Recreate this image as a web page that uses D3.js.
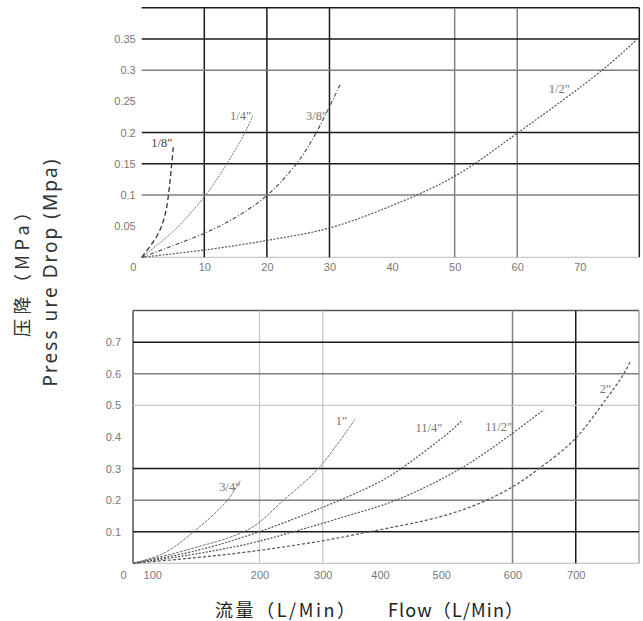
<!DOCTYPE html>
<html lang="zh">
<head>
    <meta charset="UTF-8">
    <title>Pressure drop</title>
    <style>
        body { margin: 0; background: #fff; }
        svg { display: block; }
    </style>
</head>
<body>
<svg width="643" height="621"></svg>
<script src="https://cdn.jsdelivr.net/npm/d3@7/dist/d3.min.js"></script>
<script>
    // top panel: small sizes, flow 0-80 L/min
    const topSizes = ['1/8"', '1/4"', '3/8"', '1/2"']
    const topFlow = [
        [0, 1.5, 2.7, 3.5, 4.0, 4.5, 4.8, 5.05],
        [0, 5.3, 10, 13.3, 16.5, 17.8],
        [0, 10, 15, 20, 24.8, 28, 31.7],
        [0, 10, 20, 30, 40, 50, 60, 73.7, 79.1]
    ]
    const topDrop = [
        [0, 0.02, 0.039, 0.06, 0.081, 0.12, 0.15, 0.177],
        [0, 0.044, 0.097, 0.145, 0.2, 0.228],
        [0, 0.0386, 0.064, 0.099, 0.151, 0.202, 0.277],
        [0, 0.0117, 0.027, 0.047, 0.083, 0.13, 0.199, 0.301, 0.349]
    ]
    const topXTicks = [0, 10, 20, 30, 40, 50, 60, 70]
    const topYTicks = [0.05, 0.1, 0.15, 0.2, 0.25, 0.3, 0.35]
    const topGridX = [10, 20, 30, 50, 60]
    const topGridY = [0.1, 0.15, 0.2, 0.3, 0.35]

    // bottom panel: large sizes, flow 0-800 L/min
    const botSizes = ['3/4"', '1"', '11/4"', '11/2"', '2"']
    const botFlow = [
        [0, 48.8, 96, 148.7, 169.6],
        [0, 90, 185, 238, 293, 351],
        [0, 100, 185, 290, 390, 424, 500, 519],
        [0, 100, 185, 254, 330, 416, 518, 592, 650],
        [0, 100, 185, 290, 374, 485, 548, 600, 642, 697, 747, 776, 786]
    ]
    const botDrop = [
        [0, 0.032, 0.1, 0.198, 0.262],
        [0, 0.045, 0.11, 0.2, 0.3, 0.456],
        [0, 0.04, 0.09, 0.169, 0.258, 0.3, 0.415, 0.45],
        [0, 0.03, 0.063, 0.1, 0.145, 0.2, 0.3, 0.4, 0.487],
        [0, 0.018, 0.037, 0.068, 0.1, 0.147, 0.19, 0.242, 0.3, 0.39, 0.517, 0.6, 0.638]
    ]
    const botXTicks = [0, 100, 200, 300, 400, 500, 600, 700]
    const botYTicks = [0.1, 0.2, 0.3, 0.4, 0.5, 0.6, 0.7]
    const botGridX = [200, 300, 600, 700]
    const botGridY = [0.1, 0.2, 0.3, 0.5, 0.6, 0.7]

    var svg = d3.select("svg")

    var dark = {stroke: "#1a1a1a", w: 1.5}
    var mid = {stroke: "#808080", w: 1.5}
    var light = {stroke: "#c8c8c8", w: 1.3}

    var topStyle = {10: dark, 20: dark, 30: dark, 50: mid, 60: mid}
    var topStyleY = {0.1: mid, 0.15: dark, 0.2: dark, 0.3: mid, 0.35: dark}
    var botStyle = {200: light, 300: light, 600: mid, 700: dark}
    var botStyleY = {0.1: dark, 0.2: mid, 0.3: dark, 0.5: light, 0.6: mid, 0.7: dark}

    var topLines = [
        {stroke: "#333", w: 1.3, dash: "5,3"},
        {stroke: "#777", w: 1, dash: "2,1"},
        {stroke: "#444", w: 1.1, dash: "4,2,1,2"},
        {stroke: "#555", w: 1.2, dash: "2,1.5"}
    ]
    var botLines = [
        {stroke: "#777", w: 1, dash: "3,1"},
        {stroke: "#777", w: 1, dash: "3,1"},
        {stroke: "#555", w: 1.2, dash: "2,1.5"},
        {stroke: "#555", w: 1.2, dash: "2,1.5"},
        {stroke: "#555", w: 1.2, dash: "3,2"}
    ]
    // label offsets from the end of each curve, pixels
    var topLabelOff = [[-1, 0], [-2, 5], [-13, 35], [-67, 53]]
    var botLabelOff = [[0, 10], [-8, 6], [-19, 11], [-32, 22], [-19, 31]]

    var fmt = d => d === 0 ? "0" : d3.format(".2~f")(d)

    function panel(o) {
        var x = d3.scaleLinear().domain(o.xDomain).range(o.xRange)
        var y = d3.scaleLinear().domain(o.yDomain).range(o.yRange)
        var g = svg.append("g")

        // frame pieces
        o.frame.forEach(f => {
            g.append("line")
                .attr("x1", f[0] === "v" ? x(f[1]) : x.range()[0])
                .attr("x2", f[0] === "v" ? x(f[1]) : x.range()[1])
                .attr("y1", f[0] === "h" ? y(f[1]) : y.range()[0])
                .attr("y2", f[0] === "h" ? y(f[1]) : y.range()[1])
                .attr("stroke", f[2].stroke)
                .attr("stroke-width", f[2].w)
        })

        g.selectAll(".gx").data(o.gridX).join("line")
            .attr("x1", d => x(d)).attr("x2", d => x(d))
            .attr("y1", y.range()[0]).attr("y2", y.range()[1])
            .attr("stroke", d => o.styleX[d].stroke)
            .attr("stroke-width", d => o.styleX[d].w)

        g.selectAll(".gy").data(o.gridY).join("line")
            .attr("y1", d => y(d)).attr("y2", d => y(d))
            .attr("x1", x.range()[0]).attr("x2", x.range()[1])
            .attr("stroke", d => o.styleY[d].stroke)
            .attr("stroke-width", d => o.styleY[d].w)

        var ax = g.append("g")
            .attr("transform", "translate(0," + y.range()[0] + ")")
            .call(d3.axisBottom(x).tickValues(o.xTicks).tickSize(0).tickPadding(o.xPad).tickFormat(fmt))
        ax.select(".domain").remove()
        ax.selectAll("text").attr("dx", d => o.nudge[d] || 0)

        var ay = g.append("g")
            .attr("transform", "translate(" + x.range()[0] + ",0)")
            .call(d3.axisLeft(y).tickValues(o.yTicks).tickSize(0).tickPadding(o.yPad).tickFormat(fmt))
        ay.select(".domain").remove()

        g.selectAll(".tick text")
            .attr("font-family", "Liberation Sans, sans-serif")
            .attr("font-size", 11)
            .attr("fill", "#777")

        var line = d3.line()
            .x(d => x(d[0])).y(d => y(d[1]))
            .curve(d3.curveCatmullRom.alpha(0.5))

        o.sizes.forEach((s, i) => {
            var pts = o.flow[i].map((f, j) => [f, o.drop[i][j]])
            g.append("path")
                .attr("d", line(pts))
                .attr("fill", "none")
                .attr("stroke", o.lines[i].stroke)
                .attr("stroke-width", o.lines[i].w)
                .attr("stroke-dasharray", o.lines[i].dash)
            var last = pts[pts.length - 1]
            g.append("text")
                .attr("x", x(last[0]) + o.labelOff[i][0])
                .attr("y", y(last[1]) + o.labelOff[i][1])
                .attr("text-anchor", "end")
                .attr("font-family", "Liberation Serif, serif")
                .attr("font-size", 12.5)
                .attr("fill", i === 0 && o.sizes === topSizes ? "#444" : "#777")
                .text(s)
        })
    }

    panel({
        xDomain: [0, 79.5], xRange: [141.7, 639.3],
        yDomain: [0, 0.4], yRange: [257.3, 7.8],
        frame: [["h", 0.4, dark], ["v", 79.5, dark], ["h", 0, light]],
        gridX: topGridX, gridY: topGridY, styleX: topStyle, styleY: topStyleY,
        xTicks: topXTicks, yTicks: topYTicks, xPad: 6, yPad: 6, nudge: {0: -9},
        sizes: topSizes, flow: topFlow, drop: topDrop, lines: topLines, labelOff: topLabelOff
    })

    panel({
        xDomain: [0, 800], xRange: [133, 639],
        yDomain: [0, 0.8], yRange: [563.3, 310.6],
        frame: [["h", 0.8, {stroke: "#555", w: 1.5}], ["v", 0, {stroke: "#555", w: 1.5}],
                ["v", 800, {stroke: "#999", w: 1.3}], ["h", 0, light]],
        gridX: botGridX, gridY: botGridY, styleX: botStyle, styleY: botStyleY,
        xTicks: botXTicks, yTicks: botYTicks, xPad: 8, yPad: 12, nudge: {0: -10, 100: -44, 400: -6, 500: -8},
        sizes: botSizes, flow: botFlow, drop: botDrop, lines: botLines, labelOff: botLabelOff
    })

    // axis titles
    svg.append("text")
        .attr("transform", "translate(21,270) rotate(-90)")
        .attr("text-anchor", "middle").attr("dominant-baseline", "central")
        .attr("font-family", "Noto Sans CJK SC, sans-serif").attr("font-size", 18)
        .attr("fill", "#333")
        .attr("textLength", 134).attr("lengthAdjust", "spacing")
        .text("压降（MPa）")
    svg.append("text")
        .attr("transform", "translate(50,273) rotate(-90)")
        .attr("text-anchor", "middle").attr("dominant-baseline", "central")
        .attr("font-family", "Noto Sans, sans-serif").attr("font-size", 19)
        .attr("fill", "#333")
        .attr("textLength", 227).attr("lengthAdjust", "spacing")
        .text("Press ure Drop (Mpa)")

    svg.append("text")
        .attr("x", 215).attr("y", 617)
        .attr("font-family", "Noto Sans CJK SC, sans-serif").attr("font-size", 18)
        .attr("fill", "#222")
        .attr("textLength", 140).attr("lengthAdjust", "spacing")
        .text("流量（L/Min）")
    svg.append("text")
        .attr("x", 388).attr("y", 617)
        .attr("font-family", "Noto Sans CJK SC, sans-serif").attr("font-size", 18)
        .attr("fill", "#222")
        .attr("textLength", 135).attr("lengthAdjust", "spacing")
        .text("Flow（L/Min）")
</script>
</body>
</html>
